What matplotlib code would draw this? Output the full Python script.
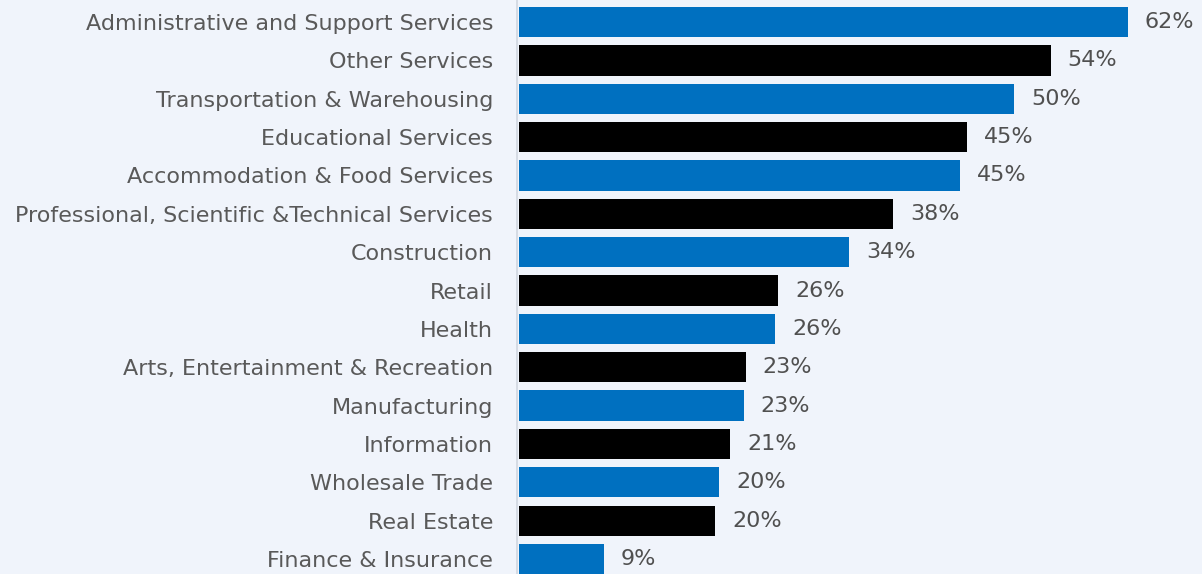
import numpy as np
import matplotlib.pyplot as plt

industries = [
    'Administrative and Support Services', 'Other Services',
    'Transportation & Warehousing', 'Educational Services',
    'Accommodation & Food Services',
    'Professional, Scientific &Technical Services', 'Construction',
    'Retail', 'Health', 'Arts, Entertainment & Recreation',
    'Manufacturing', 'Information', 'Wholesale Trade', 'Real Estate',
    'Finance & Insurance',
]
shares = [62, 54, 50, 45, 45, 38, 34, 26, 26, 23, 23, 21, 20, 20, 9]
# displayed bar lengths (slightly off the rounded labels in the original)
lengths = [62.0, 54.1, 50.4, 45.6, 44.9, 38.1, 33.6, 26.4, 26.1, 23.1, 22.9, 21.5, 20.4, 20.0, 8.7]

bg = '#f0f4fb'
colors = ['#0070c0' if i % 2 == 0 else '#000000' for i in range(len(industries))]

fig = plt.figure(figsize=(12.02, 5.74), dpi=100, facecolor=bg)
ax = fig.add_axes([0.43, 0.0, 0.57, 1.0], facecolor=bg)

y = np.arange(len(industries))
ax.barh(y, lengths, height=0.79, color=colors, left=0)

for yi, length, s in zip(y, lengths, shares):
    ax.text(length + 1.7, yi, f'{s}%', va='center', ha='left',
            fontsize=16, color='#505050')

ax.set_yticks(y)
ax.set_yticklabels(industries, fontsize=16, color='#595959')
ax.tick_params(axis='y', length=0, pad=17)
ax.set_xticks([])
ax.set_xlim(-0.2, 69.5)
ax.set_ylim(14.39, -0.574)

for side in ['top', 'right', 'bottom']:
    ax.spines[side].set_visible(False)
ax.spines['left'].set_color('#d0d6e0')
ax.spines['left'].set_linewidth(1.2)

fig.savefig('out.png', dpi=100, facecolor=bg)
